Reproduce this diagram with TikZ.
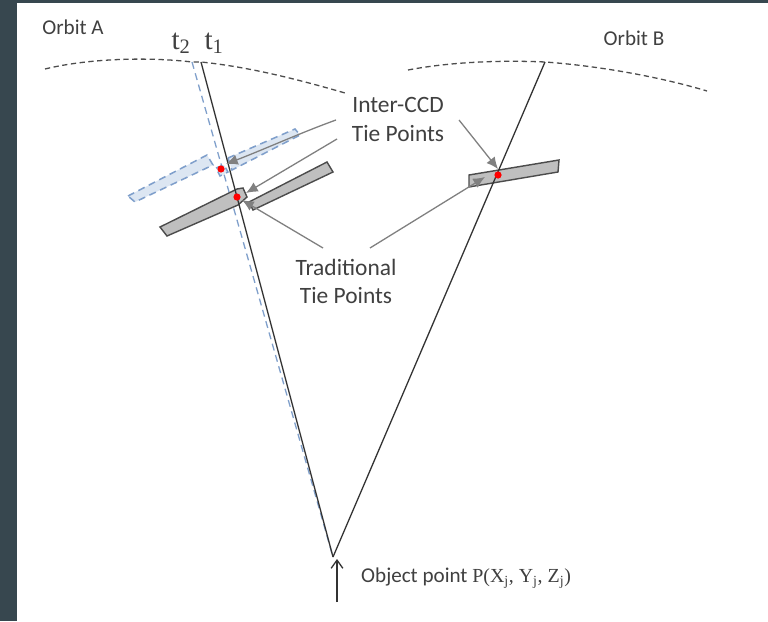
\documentclass[tikz,border=0pt]{standalone}
\usepackage{fontspec}
\setmainfont{Carlito}
\newfontfamily\serifpart{Liberation Serif}
\usepackage{xcolor}
\usepackage{tikz}
\usetikzlibrary{arrows.meta}
\definecolor{slatebg}{HTML}{37474F}
\definecolor{labelgray}{HTML}{404040}
\definecolor{stripgray}{HTML}{BFBFBF}
\definecolor{stripblue}{HTML}{DCE6F2}
\definecolor{rayblue}{HTML}{7F9FCB}
\begin{document}
\begin{tikzpicture}[x=0.03cm,y=-0.03cm,every node/.style={font=\fontsize{20}{24}\selectfont,text=labelgray,inner sep=0pt},
    orbit/.style={dash pattern=on 4.5pt off 3pt,line width=1.1pt,draw=black!70},
    ray/.style={line width=1.1pt,draw=black!80},
    sensor/.style={fill=stripgray,draw=black!70,line width=1.2pt},
    ghost/.style={fill=stripblue,draw=rayblue,dash pattern=on 6pt off 4pt,line width=1.3pt},
    pointer/.style={draw=black!50,line width=1.1pt,-{Latex[length=10pt,width=9pt]}},
    tie/.style={fill=red,draw=none}]
  \useasboundingbox (0,0) rectangle (768,621);
  \fill[slatebg] (0,0) rectangle (768,621);
  \fill[white] (17,3) rectangle (768,621);
  % rays
  \coordinate (t1) at (201,62);
  \coordinate (t2) at (192,62);
  \coordinate (tb) at (545,62);
  \coordinate (obj) at (333,557);
  \coordinate (objtail) at (337,602);
  \coordinate (objhead) at (337,559);
  % orbits
  \draw[orbit] (45,69) .. controls (90,58) and (150,57) .. (t2) -- (t1) .. controls (250,67) and (300,80) .. (345,93);
  \draw[orbit] (408,70) .. controls (450,62) and (500,60) .. (tb) .. controls (600,66) and (660,77) .. (707,91);
  % blue strip at t2
  \draw[ghost] (128,196) -- (207,155) -- (213,165) -- (135,202) -- cycle;
  \draw[ghost] (216,168) -- (224,165) -- (228,172) -- (220,176) -- cycle;
  \draw[ghost] (228,158) -- (295,129) -- (300,135) -- (232,170) -- cycle;
  \draw[rayblue,dash pattern=on 6pt off 4pt,line width=1.1pt] (t2) -- (obj);
  % grey strips
  \draw[sensor] (160,227) -- (237,189) -- (243,188) -- (247,197) -- (238,205) -- (167,236) -- cycle;
  \draw[sensor] (249,202) -- (327,162) -- (333,172) -- (253,210) -- cycle;
  \draw[sensor] (469,175) -- (559,160) -- (558,172) -- (469,187) -- cycle;
  \draw[ray] (t1) -- (obj);
  \draw[ray] (tb) -- (obj);
  % tie points
  \fill[tie] (221,169) circle (3.6);
  \fill[tie] (237,197) circle (3.6);
  \fill[tie] (498,175) circle (3.6);
  % labels
  \node[font=\fontsize{18}{22}\selectfont] (orbita) at (73,27) {Orbit A};
  \node[font=\fontsize{18}{22}\selectfont] (orbitb) at (634,38) {Orbit B};
  \node (ttwo) at (181,43) {\serifpart\fontsize{25}{28}\selectfont t\textsubscript{2}};
  \node (tone) at (214,43) {\serifpart\fontsize{25}{28}\selectfont t\textsubscript{1}};
  \node (interccd) at (398,105) {Inter-CCD};
  \node (intertie) at (398,134) {Tie Points};
  \node (trad) at (346,267) {Traditional};
  \node (tradtie) at (346,296) {Tie Points};
  \node[anchor=west,font=\fontsize{18}{22}\selectfont] (objlabel) at (361,578) {Object point {\serifpart\fontsize{17}{20}\selectfont P(X\textsubscript{j}, Y\textsubscript{j}, Z\textsubscript{j})}};
  % pointers
  \coordinate (a1) at (336,120);
  \coordinate (a2) at (337,139);
  \coordinate (a3) at (459,120);
  \coordinate (a4) at (323,248);
  \coordinate (a5) at (370,248);
  \draw[pointer] (a1) .. controls (300,133) and (265,149) .. (226,164);
  \draw[pointer] (a2) -- (246,193);
  \draw[pointer] (a3) -- (498,169);
  \draw[pointer] (a4) -- (242,200);
  \draw[pointer] (a5) -- (485,177);
  \draw[black!80,line width=1.1pt,-{Straight Barb[length=7pt,width=10pt]}] (objtail) -- (objhead);
\end{tikzpicture}
\end{document}
